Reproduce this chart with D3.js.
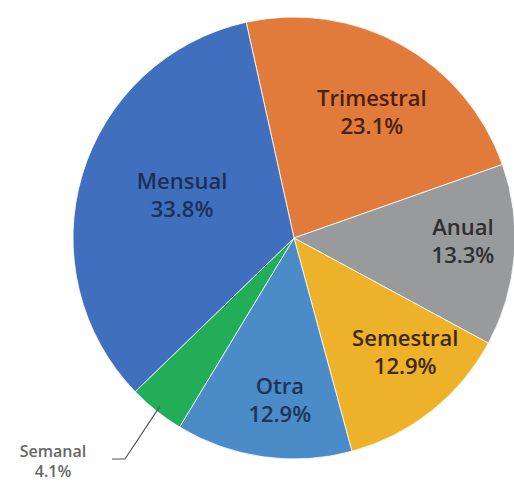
<!DOCTYPE html>
<html>
<head>
<meta charset="utf-8">
<script src="https://cdn.jsdelivr.net/npm/d3@7"></script>
<style>
  body { margin: 0; background: #fff; }
  svg { display: block; }
</style>
</head>
<body>
<div id="chart"></div>
<script>
// data
var categories = ["Trimestral", "Anual", "Semestral", "Otra", "Semanal", "Mensual"];
var values = [23.1, 13.3, 12.9, 12.9, 4.1, 33.8];
var labels = ["23.1%", "13.3%", "12.9%", "12.9%", "4.1%", "33.8%"];

var colors = ["#e17b3b", "#999a9c", "#eeb12a", "#4a8bc8", "#24ad58", "#3f6fbd"];
var textColors = ["#4a1f0c", "#2e2e30", "#3d2a0c", "#1d3557", "#666666", "#1c2f57"];

// where each inside label sits: radius and small angle shift (degrees)
var labelPlace = {
  "Trimestral": {r: 148, da: 2.7},
  "Anual":      {r: 169, da: -3.6},
  "Semestral":  {r: 159, da: -6},
  "Otra":       {r: 163, da: -3},
  "Mensual":    {r: 120, da: 4.4}
};

var width = 514, height = 481;
var cx = 294, cy = 238, radius = 221;

var svg = d3.select("#chart").append("svg")
    .attr("width", width)
    .attr("height", height);

var g = svg.append("g")
    .attr("transform", "translate(" + cx + "," + cy + ")");

var pie = d3.pie()
    .sort(null)
    .value(function(d) { return d; })
    .startAngle(-12.5 * Math.PI / 180)
    .endAngle(347.5 * Math.PI / 180);

var arcs = pie(values);

var arc = d3.arc().innerRadius(0).outerRadius(radius);

g.selectAll(".slice")
    .data(arcs)
  .enter().append("path")
    .attr("class", "slice")
    .attr("d", arc)
    .attr("fill", function(d, i) { return colors[i]; })
    .attr("stroke", "#ffffff")
    .attr("stroke-width", 0.8);

var inside = arcs.filter(function(d, i) { return categories[i] != "Semanal"; });

inside.forEach(function(d) {
  var i = d.index;
  var pl = labelPlace[categories[i]];
  var a = (d.startAngle + d.endAngle) / 2 + pl.da * Math.PI / 180;
  var x = pl.r * Math.sin(a), y = -pl.r * Math.cos(a);
  var t = g.append("text")
      .attr("x", x)
      .attr("y", y)
      .attr("text-anchor", "middle")
      .attr("fill", textColors[i])
      .style("font-family", "'Open Sans', sans-serif")
      .style("font-weight", 600)
      .style("font-size", "22px");
  t.append("tspan").attr("x", x).attr("dy", -6).text(categories[i]);
  t.append("tspan").attr("x", x).attr("dy", 28).text(labels[i]);
});

// Semanal: outside label with leader line
var si = categories.indexOf("Semanal");
var sArc = arcs[si];
var p0 = d3.arc().innerRadius(radius - 6).outerRadius(radius - 6).centroid(sArc);
var elbow = [125 - cx, 459 - cy];
var end = [112 - cx, 459 - cy];

g.append("path")
    .attr("d", d3.line()([p0, elbow, end]))
    .attr("fill", "none")
    .attr("stroke", "#555")
    .attr("stroke-width", 1.2);

var st = g.append("text")
    .attr("text-anchor", "middle")
    .attr("fill", textColors[si])
    .style("font-family", "'Open Sans', sans-serif")
    .style("font-weight", 600)
    .style("font-size", "16px");
st.append("tspan").attr("x", 53 - cx).attr("y", 457 - cy).text(categories[si]);
st.append("tspan").attr("x", 53 - cx).attr("y", 477 - cy).text(labels[si]);
</script>
</body>
</html>
